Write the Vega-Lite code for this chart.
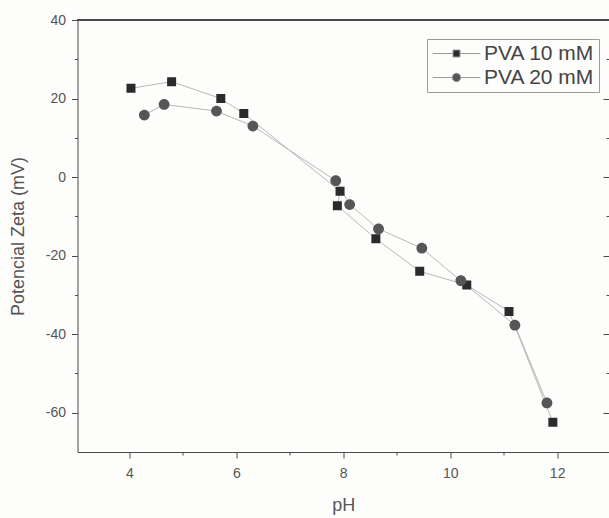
{
  "$schema": "https://vega.github.io/schema/vega-lite/v6.json",
  "autosize": {"type": "none"},
  "width": 531.5,
  "height": 432,
  "padding": {"left": 77.5, "top": 20, "right": 0, "bottom": 66},
  "background": "#fdfdfc",
  "config": {
    "font": "Liberation Sans",
    "view": {"stroke": null},
    "axis": {
      "grid": false,
      "domainColor": "#4a4a4a",
      "domainWidth": 1,
      "tickColor": "#4a4a4a",
      "tickWidth": 1,
      "labelFont": "Liberation Sans",
      "labelFontSize": 14,
      "labelColor": "#555555",
      "titleFont": "Liberation Sans",
      "titleFontSize": 18,
      "titleFontWeight": "normal",
      "titleColor": "#555555"
    }
  },
  "data": {
    "values": [
      {"series": "PVA 10 mM", "i": 1, "pH": 4.03, "zeta": 22.6},
      {"series": "PVA 10 mM", "i": 2, "pH": 4.79, "zeta": 24.3},
      {"series": "PVA 10 mM", "i": 3, "pH": 5.71, "zeta": 20.0},
      {"series": "PVA 10 mM", "i": 4, "pH": 6.14, "zeta": 16.2},
      {"series": "PVA 10 mM", "i": 5, "pH": 7.94, "zeta": -3.6},
      {"series": "PVA 10 mM", "i": 6, "pH": 7.89, "zeta": -7.3},
      {"series": "PVA 10 mM", "i": 7, "pH": 8.61, "zeta": -15.7},
      {"series": "PVA 10 mM", "i": 8, "pH": 9.43, "zeta": -24.0},
      {"series": "PVA 10 mM", "i": 9, "pH": 10.31, "zeta": -27.5},
      {"series": "PVA 10 mM", "i": 10, "pH": 11.10, "zeta": -34.2},
      {"series": "PVA 10 mM", "i": 11, "pH": 11.92, "zeta": -62.4},
      {"series": "PVA 20 mM", "i": 1, "pH": 4.28, "zeta": 15.8},
      {"series": "PVA 20 mM", "i": 2, "pH": 4.65, "zeta": 18.5},
      {"series": "PVA 20 mM", "i": 3, "pH": 5.63, "zeta": 16.8},
      {"series": "PVA 20 mM", "i": 4, "pH": 6.31, "zeta": 13.0},
      {"series": "PVA 20 mM", "i": 5, "pH": 7.86, "zeta": -0.9},
      {"series": "PVA 20 mM", "i": 6, "pH": 8.12, "zeta": -7.0},
      {"series": "PVA 20 mM", "i": 7, "pH": 8.66, "zeta": -13.2},
      {"series": "PVA 20 mM", "i": 8, "pH": 9.47, "zeta": -18.1},
      {"series": "PVA 20 mM", "i": 9, "pH": 10.20, "zeta": -26.4},
      {"series": "PVA 20 mM", "i": 10, "pH": 11.21, "zeta": -37.7},
      {"series": "PVA 20 mM", "i": 11, "pH": 11.81, "zeta": -57.5}
    ]
  },
  "layer": [
    {
      "mark": {"type": "line", "color": "#b8b8b8", "strokeWidth": 1},
      "encoding": {
        "x": {
          "field": "pH", "type": "quantitative",
          "scale": {"domain": [3.03, 12.97], "nice": false, "zero": false},
          "axis": {
            "orient": "bottom",
            "values": [4, 5, 6, 7, 8, 9, 10, 11, 12],
            "labelExpr": "datum.value % 2 === 0 ? toString(datum.value) : ''",
            "tickSize": {"condition": {"test": "datum.value % 2 === 0", "value": 6}, "value": 3},
            "labelPadding": 8,
            "labelFlush": false,
            "title": "pH",
            "titlePadding": 16
          }
        },
        "y": {
          "field": "zeta", "type": "quantitative",
          "scale": {"domain": [-70, 40], "nice": false, "zero": false},
          "axis": {
            "orient": "left",
            "values": [-60, -50, -40, -30, -20, -10, 0, 10, 20, 30, 40],
            "labelExpr": "datum.value % 20 === 0 ? toString(datum.value) : ''",
            "tickSize": {"condition": {"test": "datum.value % 20 === 0", "value": 6}, "value": 3},
            "labelPadding": 6,
            "labelFlush": false,
            "title": "Potencial Zeta (mV)",
            "titlePadding": 18
          }
        },
        "detail": {"field": "series", "type": "nominal"},
        "order": {"field": "i", "type": "quantitative"}
      }
    },
    {
      "mark": {"type": "point", "filled": true, "opacity": 1, "size": 324},
      "encoding": {
        "x": {"field": "pH", "type": "quantitative", "axis": null},
        "y": {
          "field": "zeta", "type": "quantitative",
          "axis": {
            "orient": "right",
            "values": [-60, -50, -40, -30, -20, -10, 0, 10, 20, 30, 40],
            "labels": false,
            "domain": false,
            "title": null,
            "tickSize": {"condition": {"test": "datum.value % 20 === 0", "value": -6}, "value": -3}
          }
        },
        "shape": {
          "field": "series", "type": "nominal",
          "scale": {
            "domain": ["PVA 10 mM", "PVA 20 mM"],
            "range": [
              "M-3.4,0H-0.5M0.5,0H3.4M-0.5,-0.5H0.5V0.5H-0.5Z",
              "M-3.4,0H-0.6M0.6,0H3.4M0.6,0A0.6,0.6,0,1,1,-0.6,0A0.6,0.6,0,1,1,0.6,0Z"
            ]
          },
          "legend": {
            "title": null,
            "orient": "none",
            "legendX": 349.5,
            "legendY": 19,
            "labelFont": "Liberation Sans",
            "labelFontSize": 21,
            "labelColor": "#444444",
            "labelOffset": 17,
            "symbolSize": 196,
            "symbolOffset": 15,
            "symbolStrokeColor": "#9a9a9a",
            "symbolStrokeWidth": 1,
            "padding": 4,
            "rowPadding": 2,
            "strokeColor": "#9a9a9a",
            "fillColor": null,
            "encode": {
              "symbols": {
                "update": {"stroke": {"value": "#9a9a9a"}, "strokeWidth": {"value": 1}}
              },
              "legend": {"update": {"strokeDash": {"value": [1, 1]}}}
            }
          }
        },
        "color": {
          "field": "series", "type": "nominal",
          "scale": {"domain": ["PVA 10 mM", "PVA 20 mM"], "range": ["#2b2b2b", "#565656"]}
        }
      }
    },
    {
      "mark": {"type": "rule", "color": "#4a4a4a", "strokeWidth": 1},
      "encoding": {"y": {"datum": 40, "axis": null}}
    }
  ],
  "resolve": {"axis": {"x": "independent", "y": "independent"}}
}
